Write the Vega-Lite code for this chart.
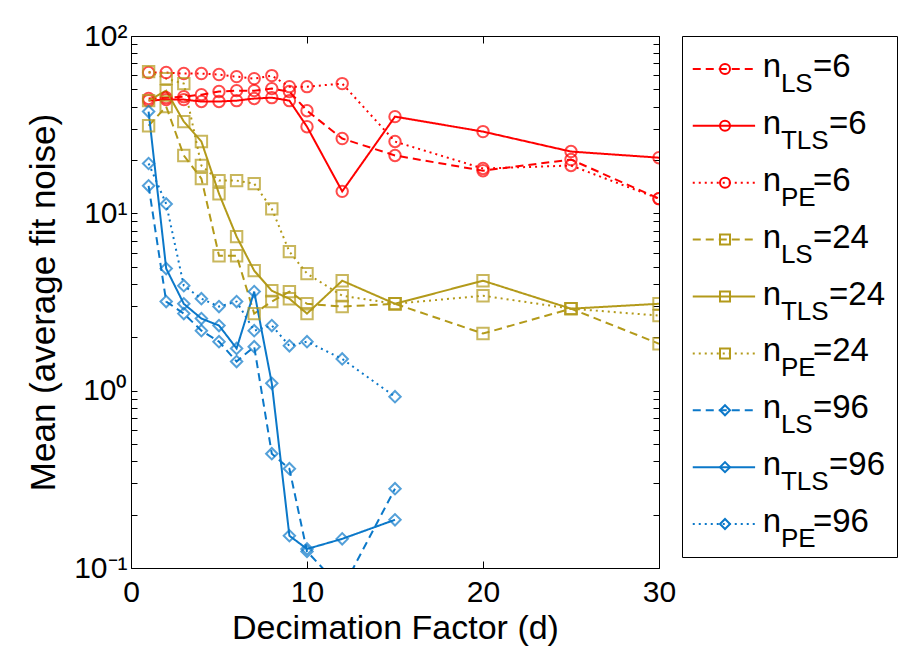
{
  "$schema": "https://vega.github.io/schema/vega-lite/v6.json",
  "background": "white",
  "padding": {"left": 26, "top": 20, "right": 0, "bottom": 0},
  "bounds": "flush",
  "config": {
    "font": "Liberation Sans",
    "view": {"stroke": "black", "strokeWidth": 1},
    "axis": {"labelColor": "black", "titleColor": "black", "tickColor": "black", "domain": false, "grid": false, "labelFont": "Liberation Sans", "titleFont": "Liberation Sans", "titleFontWeight": "normal", "labelFlush": false}
  },
  "datasets": {
    "pts": [
      {"s":"LS6","g":"6","m":"LS","d":1,"v":44.4},{"s":"LS6","g":"6","m":"LS","d":2,"v":44.9},{"s":"LS6","g":"6","m":"LS","d":3,"v":45.5},{"s":"LS6","g":"6","m":"LS","d":4,"v":46.7},{"s":"LS6","g":"6","m":"LS","d":5,"v":48.6},{"s":"LS6","g":"6","m":"LS","d":6,"v":49.2},{"s":"LS6","g":"6","m":"LS","d":7,"v":49.2},{"s":"LS6","g":"6","m":"LS","d":8,"v":50.5},{"s":"LS6","g":"6","m":"LS","d":9,"v":48.6},{"s":"LS6","g":"6","m":"LS","d":10,"v":37.9},{"s":"LS6","g":"6","m":"LS","d":12,"v":26.4},{"s":"LS6","g":"6","m":"LS","d":15,"v":21.2},{"s":"LS6","g":"6","m":"LS","d":20,"v":17.4},{"s":"LS6","g":"6","m":"LS","d":25,"v":20.1},{"s":"LS6","g":"6","m":"LS","d":30,"v":12.1},
      {"s":"TLS6","g":"6","m":"TLS","d":1,"v":43.2},{"s":"TLS6","g":"6","m":"TLS","d":2,"v":43.8},{"s":"TLS6","g":"6","m":"TLS","d":3,"v":43.8},{"s":"TLS6","g":"6","m":"TLS","d":4,"v":42.7},{"s":"TLS6","g":"6","m":"TLS","d":5,"v":42.7},{"s":"TLS6","g":"6","m":"TLS","d":6,"v":43.2},{"s":"TLS6","g":"6","m":"TLS","d":7,"v":44.4},{"s":"TLS6","g":"6","m":"TLS","d":8,"v":44.9},{"s":"TLS6","g":"6","m":"TLS","d":9,"v":43.2},{"s":"TLS6","g":"6","m":"TLS","d":10,"v":30.8},{"s":"TLS6","g":"6","m":"TLS","d":12,"v":13.3},{"s":"TLS6","g":"6","m":"TLS","d":15,"v":35.1},{"s":"TLS6","g":"6","m":"TLS","d":20,"v":28.9},{"s":"TLS6","g":"6","m":"TLS","d":25,"v":22.3},{"s":"TLS6","g":"6","m":"TLS","d":30,"v":20.6},
      {"s":"PE6","g":"6","m":"PE","d":1,"v":62.2},{"s":"PE6","g":"6","m":"PE","d":2,"v":62.2},{"s":"PE6","g":"6","m":"PE","d":3,"v":61.4},{"s":"PE6","g":"6","m":"PE","d":4,"v":61.4},{"s":"PE6","g":"6","m":"PE","d":5,"v":60.6},{"s":"PE6","g":"6","m":"PE","d":6,"v":59.0},{"s":"PE6","g":"6","m":"PE","d":7,"v":57.5},{"s":"PE6","g":"6","m":"PE","d":8,"v":59.8},{"s":"PE6","g":"6","m":"PE","d":9,"v":51.8},{"s":"PE6","g":"6","m":"PE","d":10,"v":51.8},{"s":"PE6","g":"6","m":"PE","d":12,"v":53.9},{"s":"PE6","g":"6","m":"PE","d":15,"v":25.4},{"s":"PE6","g":"6","m":"PE","d":20,"v":17.9},{"s":"PE6","g":"6","m":"PE","d":25,"v":18.6},{"s":"PE6","g":"6","m":"PE","d":30,"v":12.1},
      {"s":"LS24","g":"24","m":"LS","d":1,"v":31.2},{"s":"LS24","g":"24","m":"LS","d":2,"v":40.0},{"s":"LS24","g":"24","m":"LS","d":3,"v":21.2},{"s":"LS24","g":"24","m":"LS","d":4,"v":15.7},{"s":"LS24","g":"24","m":"LS","d":5,"v":5.77},{"s":"LS24","g":"24","m":"LS","d":6,"v":5.77},{"s":"LS24","g":"24","m":"LS","d":7,"v":2.72},{"s":"LS24","g":"24","m":"LS","d":8,"v":3.18},{"s":"LS24","g":"24","m":"LS","d":9,"v":3.62},{"s":"LS24","g":"24","m":"LS","d":10,"v":3.09},{"s":"LS24","g":"24","m":"LS","d":12,"v":2.98},{"s":"LS24","g":"24","m":"LS","d":15,"v":3.09},{"s":"LS24","g":"24","m":"LS","d":20,"v":2.10},{"s":"LS24","g":"24","m":"LS","d":25,"v":2.90},{"s":"LS24","g":"24","m":"LS","d":30,"v":1.84},
      {"s":"TLS24","g":"24","m":"TLS","d":1,"v":43.2},{"s":"TLS24","g":"24","m":"TLS","d":2,"v":49.2},{"s":"TLS24","g":"24","m":"TLS","d":3,"v":32.9},{"s":"TLS24","g":"24","m":"TLS","d":4,"v":25.4},{"s":"TLS24","g":"24","m":"TLS","d":5,"v":12.9},{"s":"TLS24","g":"24","m":"TLS","d":6,"v":7.39},{"s":"TLS24","g":"24","m":"TLS","d":7,"v":4.75},{"s":"TLS24","g":"24","m":"TLS","d":8,"v":3.66},{"s":"TLS24","g":"24","m":"TLS","d":9,"v":3.30},{"s":"TLS24","g":"24","m":"TLS","d":10,"v":2.72},{"s":"TLS24","g":"24","m":"TLS","d":12,"v":4.17},{"s":"TLS24","g":"24","m":"TLS","d":15,"v":3.09},{"s":"TLS24","g":"24","m":"TLS","d":20,"v":4.17},{"s":"TLS24","g":"24","m":"TLS","d":25,"v":2.90},{"s":"TLS24","g":"24","m":"TLS","d":30,"v":3.09},
      {"s":"PE24","g":"24","m":"PE","d":1,"v":63.0},{"s":"PE24","g":"24","m":"PE","d":2,"v":57.5},{"s":"PE24","g":"24","m":"PE","d":3,"v":53.9},{"s":"PE24","g":"24","m":"PE","d":4,"v":18.6},{"s":"PE24","g":"24","m":"PE","d":5,"v":15.3},{"s":"PE24","g":"24","m":"PE","d":6,"v":15.3},{"s":"PE24","g":"24","m":"PE","d":7,"v":14.7},{"s":"PE24","g":"24","m":"PE","d":8,"v":10.6},{"s":"PE24","g":"24","m":"PE","d":9,"v":6.08},{"s":"PE24","g":"24","m":"PE","d":10,"v":4.57},{"s":"PE24","g":"24","m":"PE","d":12,"v":3.43},{"s":"PE24","g":"24","m":"PE","d":15,"v":3.09},{"s":"PE24","g":"24","m":"PE","d":20,"v":3.43},{"s":"PE24","g":"24","m":"PE","d":25,"v":2.90},{"s":"PE24","g":"24","m":"PE","d":30,"v":2.65},
      {"s":"LS96","g":"96","m":"LS","d":1,"v":14.3},{"s":"LS96","g":"96","m":"LS","d":2,"v":3.18},{"s":"LS96","g":"96","m":"LS","d":3,"v":2.72},{"s":"LS96","g":"96","m":"LS","d":4,"v":2.18},{"s":"LS96","g":"96","m":"LS","d":5,"v":1.89},{"s":"LS96","g":"96","m":"LS","d":6,"v":1.46},{"s":"LS96","g":"96","m":"LS","d":7,"v":1.77},{"s":"LS96","g":"96","m":"LS","d":8,"v":0.441},{"s":"LS96","g":"96","m":"LS","d":9,"v":0.363},{"s":"LS96","g":"96","m":"LS","d":10,"v":0.124},{"s":"LS96","g":"96","m":"LS","d":12,"v":0.076},{"s":"LS96","g":"96","m":"LS","d":15,"v":0.280},
      {"s":"TLS96","g":"96","m":"TLS","d":1,"v":37.5},{"s":"TLS96","g":"96","m":"TLS","d":2,"v":4.88},{"s":"TLS96","g":"96","m":"TLS","d":3,"v":3.09},{"s":"TLS96","g":"96","m":"TLS","d":4,"v":2.55},{"s":"TLS96","g":"96","m":"TLS","d":5,"v":2.33},{"s":"TLS96","g":"96","m":"TLS","d":6,"v":1.73},{"s":"TLS96","g":"96","m":"TLS","d":7,"v":3.62},{"s":"TLS96","g":"96","m":"TLS","d":8,"v":1.10},{"s":"TLS96","g":"96","m":"TLS","d":9,"v":0.152},{"s":"TLS96","g":"96","m":"TLS","d":10,"v":0.128},{"s":"TLS96","g":"96","m":"TLS","d":12,"v":0.146},{"s":"TLS96","g":"96","m":"TLS","d":15,"v":0.187},
      {"s":"PE96","g":"96","m":"PE","d":1,"v":19.1},{"s":"PE96","g":"96","m":"PE","d":2,"v":11.3},{"s":"PE96","g":"96","m":"PE","d":3,"v":3.91},{"s":"PE96","g":"96","m":"PE","d":4,"v":3.30},{"s":"PE96","g":"96","m":"PE","d":5,"v":2.98},{"s":"PE96","g":"96","m":"PE","d":6,"v":3.18},{"s":"PE96","g":"96","m":"PE","d":7,"v":2.18},{"s":"PE96","g":"96","m":"PE","d":8,"v":2.33},{"s":"PE96","g":"96","m":"PE","d":9,"v":1.79},{"s":"PE96","g":"96","m":"PE","d":10,"v":1.89},{"s":"PE96","g":"96","m":"PE","d":12,"v":1.51},{"s":"PE96","g":"96","m":"PE","d":15,"v":0.925}
    ],
    "leg": [
      {"k":1,"g":"6","m":"LS","sub":"LS","eq":"=6"},
      {"k":2,"g":"6","m":"TLS","sub":"TLS","eq":"=6"},
      {"k":3,"g":"6","m":"PE","sub":"PE","eq":"=6"},
      {"k":4,"g":"24","m":"LS","sub":"LS","eq":"=24"},
      {"k":5,"g":"24","m":"TLS","sub":"TLS","eq":"=24"},
      {"k":6,"g":"24","m":"PE","sub":"PE","eq":"=24"},
      {"k":7,"g":"96","m":"LS","sub":"LS","eq":"=96"},
      {"k":8,"g":"96","m":"TLS","sub":"TLS","eq":"=96"},
      {"k":9,"g":"96","m":"PE","sub":"PE","eq":"=96"}
    ]
  },
  "spacing": 23,
  "hconcat": [
    {
      "width": 528,
      "height": 532,
      "data": {"name": "pts"},
      "layer": [
        {
          "mark": {"type": "line", "clip": true, "strokeWidth": 2},
          "encoding": {
            "x": {"field": "d", "type": "quantitative", "scale": {"domain": [0, 30], "nice": false},
                  "axis": {"orient": "bottom", "values": [0, 10, 20, 30], "tickSize": -7, "labelPadding": 16, "labelFontSize": 30, "title": "Decimation Factor (d)", "titleFontSize": 34, "titlePadding": 4}},
            "y": {"field": "v", "type": "quantitative", "scale": {"type": "log", "domain": [0.1, 100], "nice": false},
                  "axis": {"orient": "left", "values": [0.1,0.2,0.3,0.4,0.5,0.6,0.7,0.8,0.9,1,2,3,4,5,6,7,8,9,10,20,30,40,50,60,70,80,90,100], "tickSize": -6,
                           "labelExpr": "datum.value == 100 ? '10²' : datum.value == 10 ? '10¹' : datum.value == 1 ? '10⁰' : datum.value == 0.1 ? '10⁻¹' : ''",
                           "labelPadding": 10, "labelFontSize": 30, "title": "Mean (average fit noise)", "titleFontSize": 35, "titlePadding": 12}},
            "color": {"field": "g", "type": "nominal", "scale": {"domain": ["6", "24", "96"], "range": ["#ff0000", "#b39a1a", "#0b78c9"]}, "legend": null},
            "strokeDash": {"field": "m", "type": "nominal", "scale": {"domain": ["LS", "TLS", "PE"], "range": [[8, 5], [1, 0], [2, 4]]}, "legend": null},
            "detail": {"field": "s"},
            "order": {"field": "d"}
          }
        },
        {
          "mark": {"type": "point", "clip": true, "filled": false, "strokeWidth": 2, "size": 130},
          "encoding": {
            "x": {"field": "d", "type": "quantitative", "axis": {"orient": "top", "values": [0, 10, 20, 30], "tickSize": -7, "labels": false, "title": null}},
            "y": {"field": "v", "type": "quantitative", "axis": {"orient": "right", "values": [0.1,0.2,0.3,0.4,0.5,0.6,0.7,0.8,0.9,1,2,3,4,5,6,7,8,9,10,20,30,40,50,60,70,80,90,100], "tickSize": -6, "labels": false, "title": null}},
            "color": {"field": "g", "type": "nominal", "legend": null},
            "shape": {"field": "g", "type": "nominal", "scale": {"domain": ["6", "24", "96"], "range": ["circle", "square", "diamond"]}, "legend": null}
          }
        }
      ],
      "resolve": {"axis": {"x": "independent", "y": "independent"}}
    },
    {
      "width": 215,
      "height": 521,
      "data": {"name": "leg"},
      "encoding": {
        "y": {"field": "k", "type": "ordinal", "scale": {"type": "point", "padding": 0.58}, "axis": null}
      },
      "layer": [
        {
          "mark": {"type": "rule", "strokeWidth": 2},
          "encoding": {
            "x": {"datum": 0.05, "type": "quantitative", "scale": {"domain": [0, 1]}, "axis": null},
            "x2": {"datum": 0.34},
            "color": {"field": "g", "type": "nominal", "scale": {"domain": ["6", "24", "96"], "range": ["#ff0000", "#b39a1a", "#0b78c9"]}, "legend": null},
            "strokeDash": {"field": "m", "type": "nominal", "scale": {"domain": ["LS", "TLS", "PE"], "range": [[8, 5], [1, 0], [2, 4]]}, "legend": null}
          }
        },
        {
          "mark": {"type": "point", "filled": false, "strokeWidth": 2, "size": 100, "opacity": 1},
          "encoding": {
            "x": {"datum": 0.2, "type": "quantitative"},
            "color": {"field": "g", "type": "nominal", "legend": null},
            "shape": {"field": "g", "type": "nominal", "scale": {"domain": ["6", "24", "96"], "range": ["circle", "square", "diamond"]}, "legend": null}
          }
        },
        {
          "mark": {"type": "text", "align": "left", "baseline": "alphabetic", "fontSize": 33, "dy": 8, "color": "black"},
          "encoding": {"x": {"datum": 0.375, "type": "quantitative"}, "text": {"value": "n"}}
        },
        {
          "mark": {"type": "text", "align": "left", "baseline": "alphabetic", "fontSize": 26, "dy": 23, "color": "black"},
          "encoding": {"x": {"datum": 0.46, "type": "quantitative"}, "text": {"field": "sub"}}
        },
        {
          "transform": [{"filter": "datum.sub != 'TLS'"}],
          "mark": {"type": "text", "align": "left", "baseline": "alphabetic", "fontSize": 33, "dy": 8, "color": "black"},
          "encoding": {"x": {"datum": 0.609, "type": "quantitative"}, "text": {"field": "eq"}}
        },
        {
          "transform": [{"filter": "datum.sub == 'TLS'"}],
          "mark": {"type": "text", "align": "left", "baseline": "alphabetic", "fontSize": 33, "dy": 8, "color": "black"},
          "encoding": {"x": {"datum": 0.684, "type": "quantitative"}, "text": {"field": "eq"}}
        }
      ]
    }
  ]
}
